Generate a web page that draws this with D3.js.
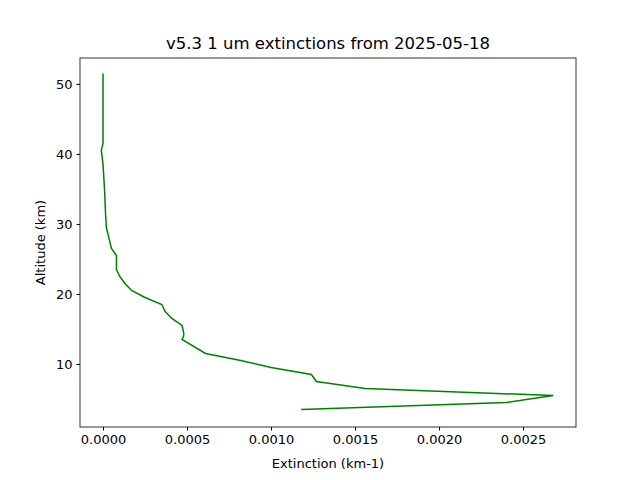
<!DOCTYPE html><html><head><meta charset="utf-8">
<script src="https://cdn.jsdelivr.net/npm/d3@7"></script>
<style>body{margin:0;background:#fff}text{font-family:"DejaVu Sans",sans-serif}</style></head><body>
<svg id="c" width="640" height="480"></svg>
<script>
const altitude = [3.5,4.5,5.5,6.5,7.5,8.5,9.5,10.5,11.5,13.5,14,14.5,15.5,16.5,17.5,18.5,19.5,20.5,21.5,22.5,23.5,25.5,26.5,27.5,28.5,29.5,31.5,34.5,38.5,40.5,41.5,51.5];
const extinction = [0.001179,0.00240,0.00268,0.00156,0.00127,0.00124,0.00100,0.00082,0.00061,0.00047,0.00048,0.00048,0.00047,0.00041,0.00037,0.00035,0.00025,0.00017,0.00013,0.00010,0.00008,0.00008,0.00005,0.00004,0.00003,0.00002,0.000015,0.00001,0.0,-0.00001,0.0,0.0];
const xTicks = [0,0.0005,0.001,0.0015,0.002,0.0025];
const yTicks = [10,20,30,40,50];
const svg = d3.select("#c");
const L=80,R=576,T=58,B=427;
const x = d3.scaleLinear().domain([-0.000137,0.002815]).range([L,R]);
const y = d3.scaleLinear().domain([1.0,53.7]).range([B,T]);
svg.append("g").attr("transform",`translate(0,${B})`).call(d3.axisBottom(x).tickValues(xTicks).tickFormat(d3.format(".4f")).tickSizeOuter(0).tickSize(3.5).tickPadding(4)).call(g=>g.select(".domain").remove()).selectAll("text").style("font-size","13px").attr("fill","#000");
svg.append("g").attr("transform",`translate(${L},0)`).call(d3.axisLeft(y).tickValues(yTicks).tickSizeOuter(0).tickSize(3.5).tickPadding(4)).call(g=>g.select(".domain").remove()).selectAll("text").style("font-size","13px").attr("fill","#000");
svg.selectAll(".tick line").attr("stroke","#000");
svg.append("rect").attr("x",L).attr("y",T).attr("width",R-L).attr("height",B-T).attr("fill","none").attr("stroke","#000").attr("stroke-width",0.8);
svg.append("path").datum(altitude.map((a,i)=>[extinction[i],a])).attr("fill","none").attr("stroke","green").attr("stroke-width",1.5)
 .attr("d",d3.line().x(d=>x(d[0])).y(d=>y(d[1])));
svg.append("text").attr("x",(L+R)/2).attr("y",49).attr("text-anchor","middle").style("font-size","16.5px").text("v5.3 1 um extinctions from 2025-05-18");
svg.append("text").attr("x",(L+R)/2).attr("y",468).attr("text-anchor","middle").style("font-size","13px").text("Extinction (km-1)");
svg.append("text").attr("transform",`translate(45,${(T+B)/2}) rotate(-90)`).attr("text-anchor","middle").style("font-size","13px").text("Altitude (km)");
</script></body></html>
